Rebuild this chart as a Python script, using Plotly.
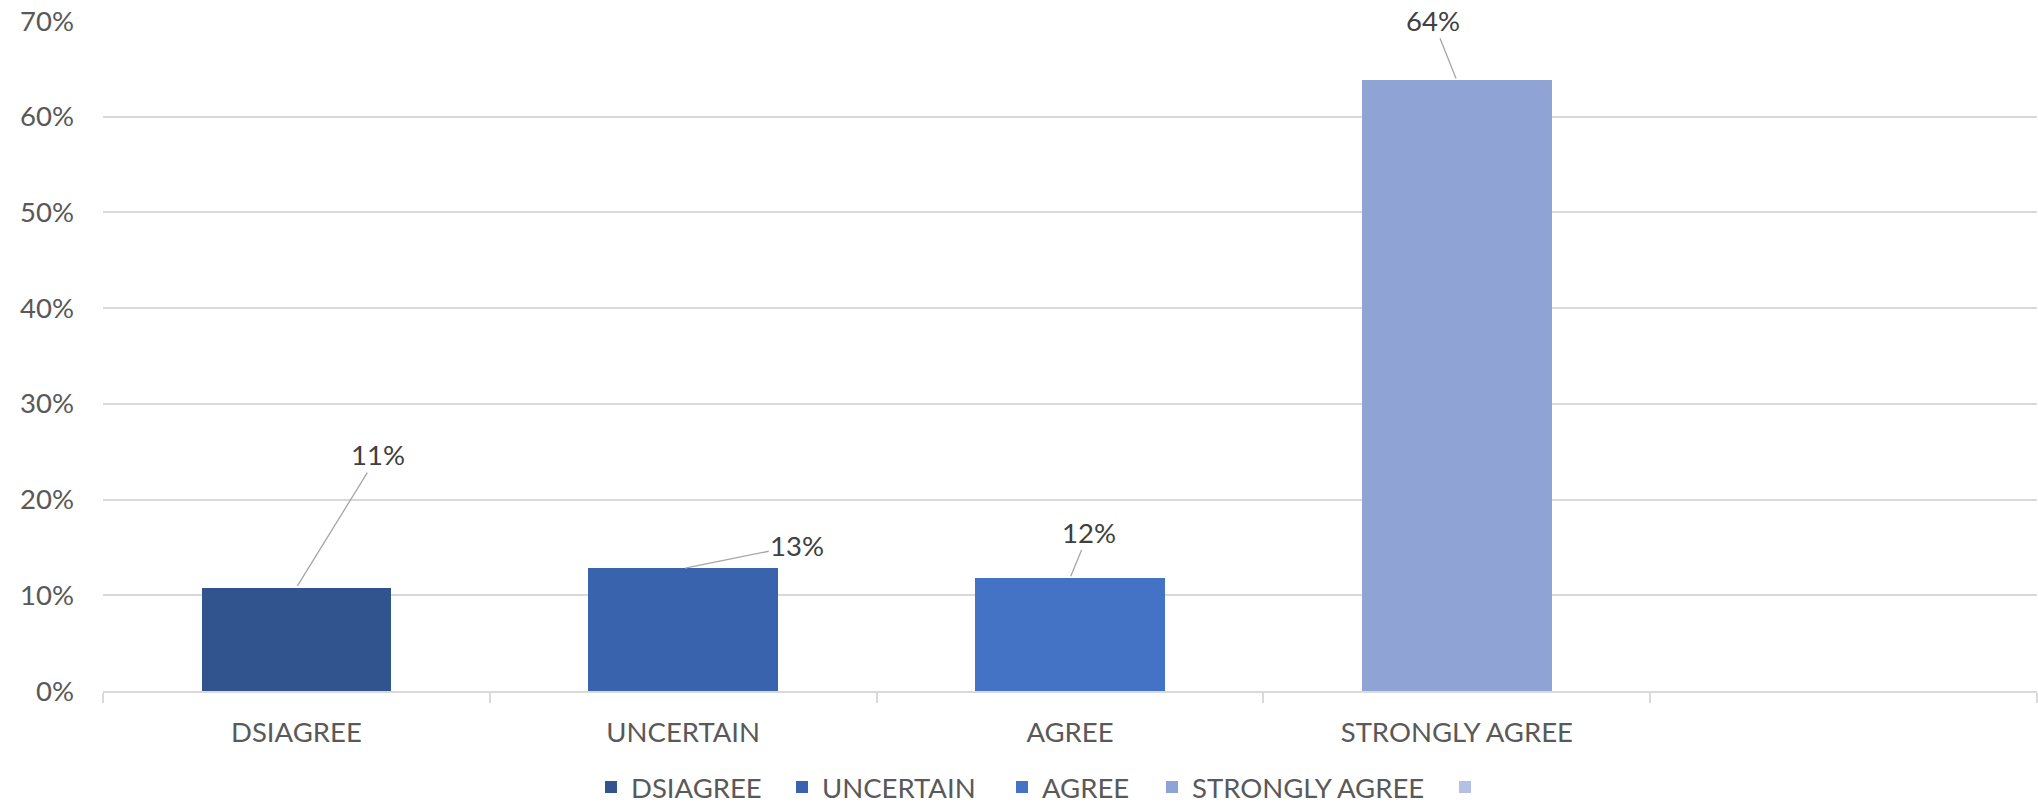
import plotly.graph_objects as go

categories = ["DSIAGREE", "UNCERTAIN", "AGREE", "STRONGLY AGREE", " "]
values = [0.108, 0.128, 0.118, 0.638, None]
labels = ["11%", "13%", "12%", "64%", None]
colors = ["#31548F", "#3A63AD", "#4472C4", "#8FA4D4", "#B4C1E4"]
legend_names = ["DSIAGREE", "UNCERTAIN", "AGREE", "STRONGLY AGREE", " "]
y_ticks = [0, 0.1, 0.2, 0.3, 0.4, 0.5, 0.6, 0.7]

# label offsets (pixels) for the leader lines
label_dx = [82, 114, 19, -24]
label_dy = [-133, -23, -46, -60]

# legend entry positions (container px, left edge of each entry)
legend_x_px = [591, 782, 1002, 1152, 1445]

FONT = "Lato"
FS = 27.5
W, H = 2038, 806

fig = go.Figure()
legend_ids = ["legend", "legend2", "legend3", "legend4", "legend5"]
for cat, val, col, name, lid in zip(categories, values, colors, legend_names, legend_ids):
    fig.add_trace(go.Bar(
        x=[cat], y=[val], name=name,
        marker=dict(color=col, line=dict(width=0)),
        width=0.49,
        hoverinfo="skip",
        legend=lid,
    ))

for i in range(4):
    fig.add_annotation(
        x=categories[i], y=values[i], text=labels[i],
        showarrow=True, arrowhead=0, arrowwidth=1.3, arrowcolor="#A6A6A6",
        ax=label_dx[i], ay=label_dy[i], standoff=2,
        font=dict(family=FONT, size=FS, color="#404040"),
    )

legend_common = dict(
    orientation="h", xref="container", yref="container",
    xanchor="left", y=1 - 787 / H, yanchor="middle",
    font=dict(family=FONT, size=FS, color="#595959"),
    itemclick=False, itemdoubleclick=False,
    bgcolor="rgba(0,0,0,0)", borderwidth=0,
)
legend_layout = {}
for lid, lx in zip(legend_ids, legend_x_px):
    legend_layout[lid] = dict(legend_common, x=lx / W)

fig.update_layout(
    width=W, height=H,
    margin=dict(l=103, r=1, t=21, b=115),
    paper_bgcolor="white", plot_bgcolor="white",
    barmode="stack",
    font=dict(family=FONT, size=FS, color="#595959"),
    showlegend=True,
    **legend_layout,
    xaxis=dict(
        type="category", categoryorder="array", categoryarray=categories,
        showgrid=False, showline=True, linecolor="#D9D9D9", linewidth=1.5,
        ticks="outside", tickson="boundaries", ticklen=10, tickcolor="#D9D9D9", tickwidth=1.5,
        tickfont=dict(family=FONT, size=FS, color="#595959"),
        range=[-0.5, 4.5], automargin=False, ticklabelstandoff=16,
        ticklabeloverflow="allow",
    ),
    yaxis=dict(
        range=[0, 0.7], tickvals=y_ticks, tickformat=".0%",
        showgrid=True, gridcolor="#D9D9D9", gridwidth=1.5,
        showline=False, zeroline=False, ticks="",
        tickfont=dict(family=FONT, size=FS, color="#595959"),
        ticklabelstandoff=28, automargin=False,
        ticklabeloverflow="allow",
    ),
)

fig.write_html(
    "out.html",
    config={"displayModeBar": False},
    post_script="document.body.style.margin='0';",
)
